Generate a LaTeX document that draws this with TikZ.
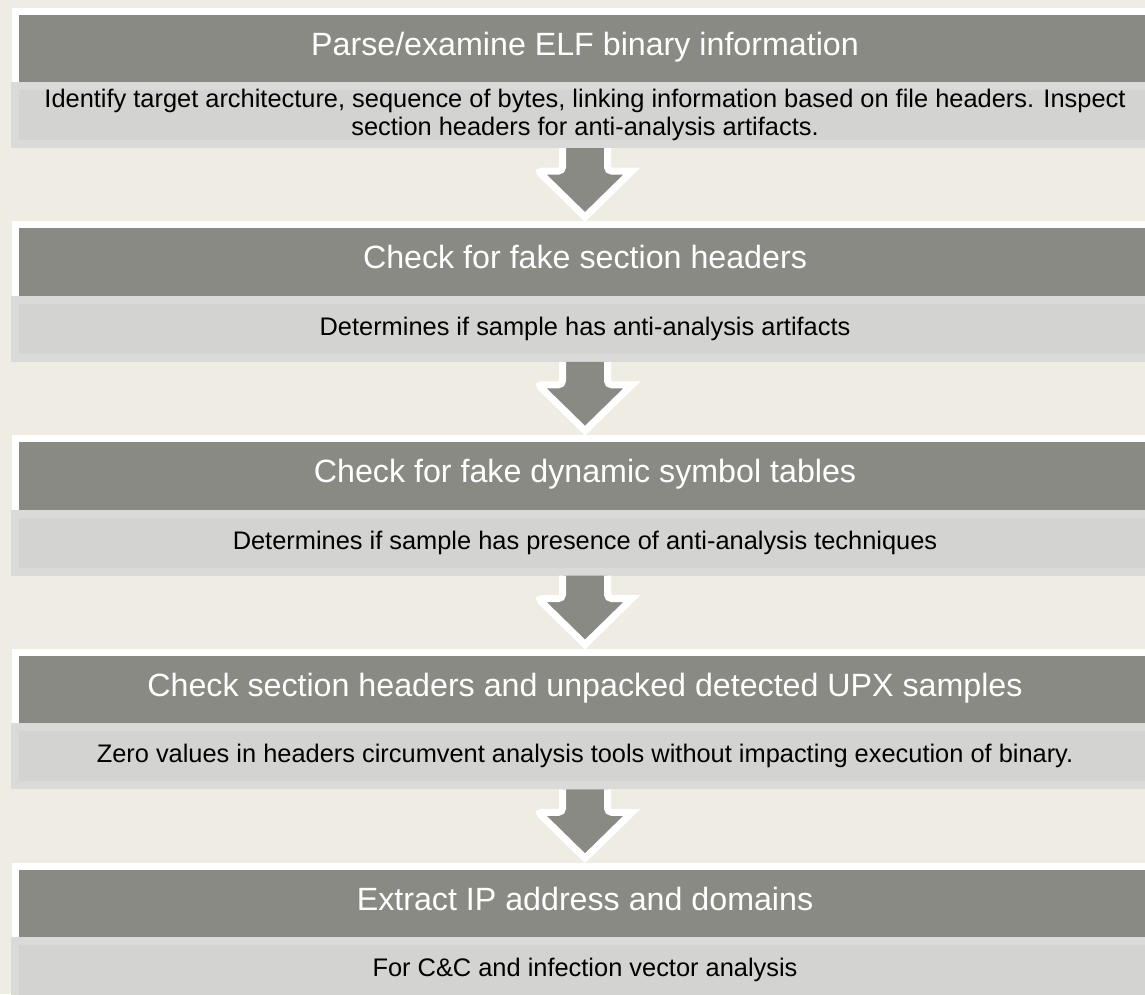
\documentclass[tikz,border=0pt]{standalone}
\usepackage{fontspec}
\setmainfont{Liberation Sans}
\usetikzlibrary{positioning}
\definecolor{pagebg}{RGB}{239,236,228}
\definecolor{headgray}{RGB}{138,138,132}
\definecolor{subedge}{RGB}{218,218,216}
\definecolor{subfill}{RGB}{211,211,209}
\begin{document}
\begin{tikzpicture}[x=1pt, y=-1pt, line join=miter,
	stagehead/.style={fill=headgray, draw=white, line width=7pt,
		minimum width=1140pt, minimum height=75pt, inner sep=0pt, outer sep=0pt,
		text=white, font=\fontsize{32.2}{38}\selectfont, text height=23pt, text depth=10pt},
	stagebody/.style={fill=subfill, draw=subedge, line width=8pt,
		minimum width=1140pt, minimum height=58pt, inner sep=0pt, outer sep=0pt,
		align=center, font=\fontsize{25.4}{28}\selectfont},
	flowarrow/.style={fill=headgray, draw=white, line width=7pt}]
	\useasboundingbox (0,0) rectangle (1145,994);
	\fill[pagebg] (0,0) rectangle (1145,994);
	% stages
	\foreach \i/\head/\body in
	{1/{Parse/examine ELF binary information}/{Identify target architecture, sequence of bytes, linking information based on file headers. Inspect\\ section headers for anti-analysis artifacts.},
		2/{Check for fake section headers}/{Determines if sample has anti-analysis artifacts},
		3/{Check for fake dynamic symbol tables}/{Determines if sample has presence of anti-analysis techniques},
		4/{Check section headers and unpacked detected UPX samples}/{Zero values in headers circumvent analysis tools without impacting execution of binary.},
		5/{Extract IP address and domains}/{For C\&C and infection vector analysis}}
	{
		\pgfmathsetmacro{\ypos}{48.5+(\i-1)*213.75}
		\node[stagehead] (h\i) at (585,\ypos) {\head};
		\node[stagebody, below=0pt of h\i] (s\i) {\body};
	}
	% arrows
	\foreach \i in {1,2,3,4}{
		\draw[flowarrow] ([xshift=-22.5pt,yshift=-4pt]s\i.south) [rounded corners=4pt] -- ++(0,23)
			-- ++(-24.5,0) [sharp corners] -- ++(47,46) -- ++(47,-46)
			[rounded corners=4pt] -- ++(-24.5,0) -- ++(0,-23);
	}
\end{tikzpicture}
\end{document}
